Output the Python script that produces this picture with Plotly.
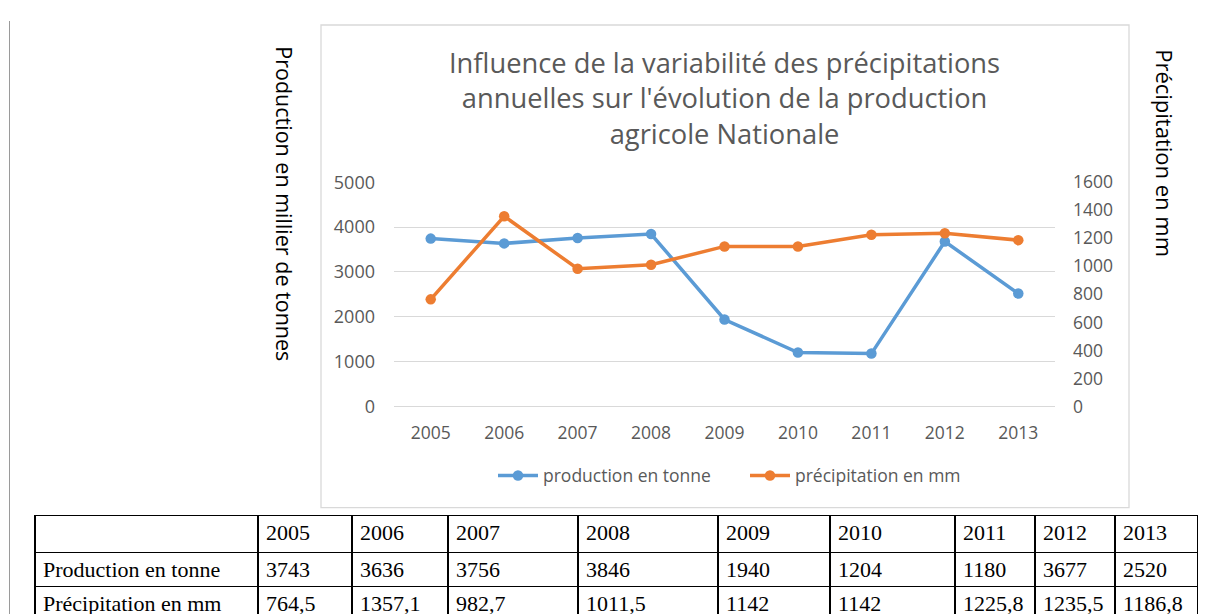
import plotly.graph_objects as go

years = ["2005", "2006", "2007", "2008", "2009", "2010", "2011", "2012", "2013"]
production = [3743, 3636, 3756, 3846, 1940, 1204, 1180, 3677, 2520]
precipitation = [764.5, 1357.1, 982.7, 1011.5, 1142, 1142, 1225.8, 1235.5, 1186.8]
row_labels = ["Production en tonne", "Précipitation en mm"]
series_names = ["production en tonne", "précipitation en mm"]
title_text = "Influence de la variabilité des précipitations<br>annuelles sur l'évolution de la production<br>agricole Nationale"
left_title = "Production en millier de tonnes"
right_title = "Précipitation en mm"

W, H = 1190, 620
OX, OY, SY = 8, 20, 0.96  # observed page offset / vertical scale of the photographed figure


def px(x):
    return (x - OX) / W


def py(y):
    return 1 - ((y - OY) / SY) / H


def fmt(v):
    if float(v).is_integer():
        return str(int(v))
    return str(v).replace(".", ",")


BLUE = "#5B9BD5"
ORANGE = "#ED7D31"
GREY = "#595959"
FONT = "Open Sans"

fig = go.Figure()
fig.add_trace(go.Scatter(x=years, y=production, name=series_names[0], mode="lines+markers",
                         line=dict(color=BLUE, width=3.5), marker=dict(size=10.5, color=BLUE),
                         xaxis="x", yaxis="y"))
fig.add_trace(go.Scatter(x=years, y=precipitation, name=series_names[1], mode="lines+markers",
                         line=dict(color=ORANGE, width=3.5), marker=dict(size=10.5, color=ORANGE),
                         xaxis="x", yaxis="y2"))

col_widths = [223, 94, 96, 130, 140, 112, 125, 80, 80, 83]
cell_cols = [row_labels] + [[fmt(p), fmt(r)] for p, r in zip(production, precipitation)]
fig.add_trace(go.Table(
    domain=dict(x=[px(35), 1], y=[0, py(514)]),
    columnwidth=col_widths,
    header=dict(values=[""] + years, align="left", height=37,
                fill=dict(color="white"), line=dict(color="black", width=1.3),
                font=dict(family="Liberation Serif", size=22, color="black")),
    cells=dict(values=cell_cols, align="left", height=34,
               fill=dict(color="white"), line=dict(color="black", width=1.3),
               font=dict(family="Liberation Serif", size=22, color="black")),
))

fig.update_layout(
    width=W, height=H, margin=dict(l=0, r=0, t=0, b=0),
    paper_bgcolor="white", plot_bgcolor="white",
    font=dict(family=FONT, color=GREY),
    showlegend=True,
    legend=dict(orientation="h", x=px(493), y=py(474), xanchor="left", yanchor="middle",
                font=dict(size=17.5, color=GREY), itemwidth=40, tracegroupgap=0,
                entrywidth=197, entrywidthmode="pixels"),
    xaxis=dict(domain=[px(394), px(1055)], type="category", range=[-0.5, 8.5],
               showgrid=False, showline=False, zeroline=False, ticks="",
               tickfont=dict(size=17.5, color=GREY), ticklabelstandoff=14, fixedrange=True),
    yaxis=dict(domain=[py(405), py(181)], range=[0, 5000], dtick=1000,
               showgrid=True, gridcolor="#D9D9D9", gridwidth=1.2, zeroline=True,
               zerolinecolor="#D9D9D9", zerolinewidth=1.2, showline=False, ticks="",
               tickfont=dict(size=18, color=GREY), ticklabelstandoff=18),
    yaxis2=dict(overlaying="y", side="right", anchor="x", range=[0, 1600], dtick=200,
                showgrid=False, zeroline=False, showline=False, ticks="",
                tickfont=dict(size=17.5, color=GREY), ticklabelstandoff=17),
    shapes=[
        dict(type="rect", xref="paper", yref="paper", x0=px(321), x1=px(1129), y0=py(506), y1=py(24),
             line=dict(color="#D9D9D9", width=1.3), fillcolor="rgba(0,0,0,0)", layer="below"),
        dict(type="line", xref="paper", yref="paper", x0=px(9.5), x1=px(9.5), y0=1, y1=0,
             line=dict(color="#9a9a9a", width=1)),
    ],
    annotations=[
        dict(text=title_text, xref="paper", yref="paper", x=px(724), y=py(97),
             xanchor="center", yanchor="middle", showarrow=False,
             font=dict(size=27.3, color=GREY, family=FONT)),
        dict(text=left_title, xref="paper", yref="paper", x=px(285), y=py(202),
             xanchor="center", yanchor="middle", showarrow=False, textangle=90,
             font=dict(size=21.5, color="black", family=FONT)),
        dict(text=right_title, xref="paper", yref="paper", x=px(1165), y=py(152),
             xanchor="center", yanchor="middle", showarrow=False, textangle=90,
             font=dict(size=22, color="black", family=FONT)),
    ],
)

fig.write_html("out.html")
